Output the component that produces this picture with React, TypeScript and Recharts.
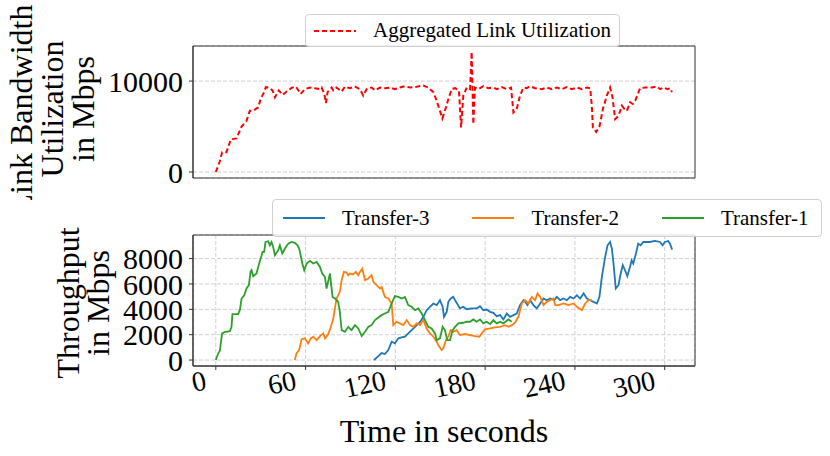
import { LineChart, Line, XAxis, YAxis, CartesianGrid, ReferenceArea } from 'recharts'

const FONT = '"Liberation Serif", "Times New Roman", serif'

const timeTicks = [0, 60, 120, 180, 240, 300]
const linkTicks = [0, 10000]
const throughputTicks = [0, 2000, 4000, 6000, 8000]

const topTitle = ['Link Bandwidth', 'Utilization', 'in Mbps']
const bottomTitle = ['Throughput', 'in Mbps']
const xTitle = 'Time in seconds'

const aggName = 'Aggregated Link Utilization'
const aggTime = [
  0, 2.7, 4.2, 7.1, 10, 13.8, 17.2, 20.5, 22.7, 25, 28.3, 30.1, 32.3, 33.4, 35, 36.1, 37.9, 39.5, 42.1, 44.6,
  47.3, 50.6, 53.5, 56.7, 59.5, 62.9, 66.2, 69.6, 70.7, 72.5, 73.6, 74.7, 77.4, 78.5, 80.7, 84.1, 86.3, 89.6, 93, 96.3,
  98.5, 100.8, 104.1, 106.4, 109.7, 113, 116.4, 119.7, 123, 126.4, 129.8, 134.2, 138.7, 142, 145.4, 147.6, 151.4, 153.8, 155.4, 157.7,
  159.9, 162.5, 163.9, 165.4, 167.7, 169.9, 171, 172.1, 173.2, 175.5, 178.8, 182.2, 185.5, 187.8, 191.1, 194.5, 197.3, 198.9, 201.1, 203.3,
  205.6, 207.8, 210, 213.4, 217.9, 221.2, 224.6, 227.9, 231.3, 234.6, 238, 241.3, 244.7, 248, 250.2, 251.3, 252, 254.2, 256.4, 258.7,
  261.3, 263.5, 265.1, 266.9, 269.1, 271.4, 273.1, 274.7, 276.9, 278.7, 280.3, 282.5, 283.6, 287, 291.4, 294.8, 297, 299.3, 301.9, 303.7,
  304.8,
]
const aggMbps = [
  0, 1180, 2180, 2180, 3590, 3700, 5000, 5620, 6730, 6730, 7110, 8110, 8780, 9330, 9300, 9220, 8970, 8220, 8970, 8480,
  8850, 9250, 9400, 8590, 9110, 9290, 9220, 9110, 9290, 8590, 7590, 8780, 9290, 8970, 9290, 8850, 9400, 9220, 9400, 9110,
  8400, 9110, 9290, 8970, 9290, 9220, 9290, 9110, 9290, 9440, 9290, 9370, 9520, 9290, 8780, 7840, 5890, 7110, 8030, 9140,
  9220, 8970, 4890, 8400, 9290, 9110, 13220, 5260, 9290, 9110, 9440, 9220, 9290, 9110, 9330, 9110, 9290, 6550, 6920, 8400,
  9290, 9220, 9440, 9220, 9110, 9290, 9110, 9290, 9110, 9330, 9110, 9290, 9110, 9290, 9220, 7290, 4890, 4400, 5000, 6920,
  8400, 9290, 8220, 5810, 6180, 7290, 6920, 6730, 7670, 7480, 7840, 8780, 9220, 9290, 9290, 9400, 9110, 9290, 9110, 9220,
  8780,
]

// Transfer-1 (green)
const t1Time = [
  0, 1.6, 2.7, 4.2, 5.8, 9.4, 10.5, 11.1, 14.9, 16.1, 17.2, 19, 20.5, 22.1, 23.2, 23.9, 25, 27.2, 28.3, 30.6,
  31.2, 32.3, 33.2, 35, 36.1, 37.2, 38.3, 39.5, 41.7, 42.8, 44.4, 46.2, 48.4, 50.6, 52.9, 54.6, 55.7, 56.7, 57.8, 59.1,
  60.7, 62.9, 65.1, 67.4, 69.6, 71.1, 72.9, 74, 76.3, 78, 79.7, 81.8, 82.9, 84.1, 86.3, 88.5, 90.7, 93, 95.2, 97.5,
  99.7, 102, 104.1, 106.4, 108.6, 110.8, 113, 115.3, 117.5, 119.7, 122, 124.2, 126.4, 128.6, 130.9, 133.1, 135.3, 137.6, 139.8, 142,
  144.2, 146.5, 147.6, 149.8, 151.6, 153.1, 154.7, 156.5, 158.3, 159.9, 162.1, 165.4, 167.7, 169.9, 172.1, 174.3, 176.6, 178.8, 181, 183.3,
  185.5, 187.7, 190, 192.2, 195.5, 197.7,
]
const t1Mbps = [
  0, 530, 730, 2100, 2200, 2270, 2620, 3620, 3620, 3950, 4850, 5110, 5640, 5900, 6950, 7080, 6610, 6820, 7340, 8260,
  8530, 8530, 9310, 9370, 9050, 9310, 8920, 8260, 8660, 9050, 8400, 8790, 9180, 9310, 9240, 9050, 8790, 8260, 7610, 7080,
  7610, 7820, 7610, 7740, 7340, 6820, 6560, 5640, 6820, 4980, 4850, 4590, 3800, 2360, 2230, 2620, 2360, 2750, 2490, 1890,
  2230, 2620, 2750, 3150, 3360, 3540, 3670, 3800, 4460, 5040, 4980, 4850, 4980, 4330, 4200, 3930, 4070, 3670, 3150, 2620,
  2490, 2100, 1570, 1710, 2620, 2360, 1570, 1570, 2360, 2620, 2890, 2940, 3020, 3020, 3200, 3020, 3200, 2890, 3020, 2830,
  3150, 2890, 3020, 2890, 3200, 3020,
]

// Transfer-2 (orange)
const t2Time = [
  52.8, 53.9, 55.7, 57.3, 59.5, 61.7, 63.5, 65.1, 67.4, 69.6, 71.8, 73, 75.1, 76.9, 78.5, 79.6, 80.7, 82.9, 84.1, 85.6,
  87.4, 88.5, 89.6, 91.8, 93.6, 95.2, 96.3, 97.9, 99.7, 101.9, 104.1, 105.3, 107.5, 109.7, 110.8, 113, 115.3, 117.5, 118.6, 120.8,
  123, 125.3, 127.6, 129.8, 132, 134.2, 136.5, 138.7, 140.9, 143.1, 145.4, 147.6, 148.7, 150.9, 152, 153.8, 155.4, 156.9, 158.7, 160.9,
  163.2, 166.5, 169.9, 173.2, 176.1, 177.7, 179.9, 183.3, 186.6, 190, 193.3, 195.6, 197.9, 200, 202.2, 204.5, 206.7, 208.9, 211.2, 213.4,
  215, 216.8, 219, 221.2, 223.4, 225.7, 226.8, 229, 232.4, 235.7, 239.1, 241.3, 244.6, 246.9, 249.1, 251.3,
]
const t2Mbps = [
  0, 530, 790, 1630, 1710, 1310, 1710, 1840, 1570, 1890, 2100, 1710, 2030, 2620, 3280, 4070, 4850, 5380, 6300, 6950,
  6900, 6690, 6820, 6750, 6950, 6690, 6950, 7210, 6300, 6430, 6690, 6170, 5900, 5640, 5770, 4980, 4850, 4460, 2750, 3020,
  2890, 2750, 3150, 2750, 2620, 2890, 2750, 3150, 2490, 2100, 1840, 1440, 1180, 790, 920, 1570, 1840, 2360, 2230, 2360,
  1970, 2050, 1970, 1890, 1840, 2100, 2420, 2490, 2570, 2620, 2750, 2620, 2750, 2940, 3410, 4460, 4720, 4460, 4980, 4720,
  5250, 4980, 4330, 4590, 4720, 4850, 4330, 4330, 4460, 4330, 4460, 4200, 3930, 4460, 4720, 4720,
]

// Transfer-3 (blue)
const t3Time = [
  105.7, 108.6, 110.8, 113, 115.3, 117.5, 119.7, 122, 124.2, 126.4, 128.6, 130.9, 133.1, 136.5, 138.7, 140.9, 143.1, 145.4, 147.6, 149.8,
  151.6, 152.5, 154.3, 155.4, 157, 158.7, 160.5, 163.2, 165.4, 167.7, 171, 174.3, 176.6, 178.8, 181, 183.3, 185.5, 187.7, 190, 192.2,
  194.5, 196.7, 198.9, 201.1, 203.3, 205.6, 206.7, 208.3, 210, 212.3, 214.5, 216.8, 219, 221.2, 223.4, 226.1, 227.9, 230.1, 232.4, 234.6,
  236.8, 239.1, 241.3, 243.5, 245.8, 248, 250.2, 252.4, 254.7, 256.4, 258, 260.2, 261.8, 263.5, 264.7, 265.8, 267.3, 269.1, 270.6, 272,
  273.5, 275, 276.8, 277.9, 279, 280.8, 282.3, 283.9, 285.7, 290.1, 293.5, 296.8, 298.6, 300.1, 302.4, 303.5, 305,
]
const t3Mbps = [
  0, 310, 550, 470, 790, 1440, 1310, 1710, 1790, 1840, 2100, 2360, 2620, 3010, 3410, 3930, 4200, 4460, 4330, 4720,
  4200, 3410, 3800, 4590, 4850, 4980, 4590, 4070, 4200, 4010, 4070, 4070, 4250, 3930, 3980, 3800, 3720, 3460, 3540, 3200,
  3670, 3410, 3540, 3670, 4330, 4720, 4590, 4330, 4720, 4330, 4070, 4460, 4850, 4720, 4850, 4720, 4980, 4720, 4850, 4720,
  4980, 4850, 5110, 4850, 5250, 4850, 4720, 4590, 4460, 4980, 6560, 8130, 9050, 9310, 8790, 7610, 5640, 5900, 6820, 7480,
  7080, 6610, 7340, 7870, 7610, 8400, 9180, 9050, 9310, 9310, 9390, 9310, 9050, 9310, 9390, 9180, 8710,
]

const transfers = [
  { name: 'Transfer-3', color: '#1f77b4', time: t3Time, mbps: t3Mbps },
  { name: 'Transfer-2', color: '#ff7f0e', time: t2Time, mbps: t2Mbps },
  { name: 'Transfer-1', color: '#2ca02c', time: t1Time, mbps: t1Mbps },
]

const toPoints = (time: number[], mbps: number[]) => time.map((t, i) => ({ t, v: mbps[i] }))

const X_DOMAIN: [number, number] = [-15.25, 320.25]
const TOP_DOMAIN: [number, number] = [-660, 13860]
const BOTTOM_DOMAIN: [number, number] = [-470, 9860]
const SPINE = '#333'
const GRID = '#d0d0d0'

function AxisTitle({ lines, x, y, gap }: { lines: string[]; x: number; y: number; gap: number }) {
  return (
    <g>
      {lines.map((line, i) => {
        const bx = x + i * gap
        return (
          <text
            key={line}
            x={bx}
            y={y}
            transform={`rotate(-90 ${bx} ${y})`}
            textAnchor="middle"
            fontSize={32}
            fontFamily={FONT}
            fill="#000"
          >
            {line}
          </text>
        )
      })}
    </g>
  )
}

function TimeTick({ x, y, payload }: any) {
  const ax = x - 8
  const ay = y + 17
  return (
    <text
      x={ax}
      y={ay}
      textAnchor="end"
      transform={`rotate(-12 ${ax} ${ay})`}
      fontSize={28}
      fontFamily={FONT}
      fill="#000"
    >
      {payload.value}
    </text>
  )
}

const yTick = { fontSize: 30, fill: '#000', fontFamily: FONT }

export default function App() {
  const aggData = toPoints(aggTime, aggMbps)

  return (
    <div style={{ position: 'absolute', left: 0, top: 0, width: 830, height: 456, background: '#fff' }}>
      <div style={{ position: 'absolute', left: 0, top: 0 }}>
        <LineChart width={830} height={200} data={aggData} margin={{ top: 46, right: 135, bottom: 22, left: 123 }}>
          <CartesianGrid vertical={false} stroke={GRID} strokeDasharray="4 2" />
          <XAxis
            dataKey="t"
            type="number"
            domain={X_DOMAIN}
            ticks={timeTicks}
            interval={0}
            tick={false}
            tickLine={false}
            axisLine={{ stroke: SPINE }}
            height={0}
          />
          <YAxis
            type="number"
            domain={TOP_DOMAIN}
            ticks={linkTicks}
            interval={0}
            width={70}
            tick={yTick}
            tickSize={4}
            tickMargin={6}
            tickLine={{ stroke: SPINE }}
            axisLine={{ stroke: SPINE }}
            label={{ content: () => <AxisTitle lines={topTitle} x={32} y={109} gap={31} /> }}
          />
          <ReferenceArea
            x1={X_DOMAIN[0]}
            x2={X_DOMAIN[1]}
            y1={TOP_DOMAIN[0]}
            y2={TOP_DOMAIN[1]}
            fill="none"
            stroke={SPINE}
            strokeWidth={1}
          />
          <Line
            dataKey="v"
            stroke="#ff0000"
            strokeWidth={2}
            strokeDasharray="5 3"
            dot={false}
            isAnimationActive={false}
          />
        </LineChart>
      </div>

      <div style={{ position: 'absolute', left: 0, top: 0 }}>
        <LineChart width={830} height={456} margin={{ top: 235, right: 135, bottom: 0, left: 123 }}>
          <CartesianGrid stroke={GRID} strokeDasharray="4 2" />
          <XAxis
            dataKey="t"
            type="number"
            domain={X_DOMAIN}
            ticks={timeTicks}
            interval={0}
            height={90}
            tick={<TimeTick />}
            tickSize={4}
            tickMargin={2}
            tickLine={{ stroke: SPINE }}
            axisLine={{ stroke: SPINE }}
            label={{ value: xTitle, position: 'insideBottom', offset: 14, fontSize: 32, fontFamily: FONT, fill: '#000' }}
          />
          <YAxis
            type="number"
            domain={BOTTOM_DOMAIN}
            ticks={throughputTicks}
            interval={0}
            width={70}
            tick={yTick}
            tickSize={4}
            tickMargin={6}
            tickLine={{ stroke: SPINE }}
            axisLine={{ stroke: SPINE }}
            label={{ content: () => <AxisTitle lines={bottomTitle} x={79} y={303} gap={30} /> }}
          />
          <ReferenceArea
            x1={X_DOMAIN[0]}
            x2={X_DOMAIN[1]}
            y1={BOTTOM_DOMAIN[0]}
            y2={BOTTOM_DOMAIN[1]}
            fill="none"
            stroke={SPINE}
            strokeWidth={1}
          />
          {transfers.map((s) => (
            <Line
              key={s.name}
              data={toPoints(s.time, s.mbps)}
              dataKey="v"
              name={s.name}
              stroke={s.color}
              strokeWidth={1.8}
              dot={false}
              isAnimationActive={false}
            />
          ))}
        </LineChart>
      </div>

      {/* legend of the top panel */}
      <div
        style={{
          position: 'absolute',
          left: 305,
          top: 14,
          width: 315,
          height: 33,
          boxSizing: 'border-box',
          border: '1px solid #d0d0d0',
          borderRadius: 4,
          background: 'rgba(255,255,255,0.85)',
          display: 'flex',
          alignItems: 'center',
          paddingLeft: 8,
          fontFamily: FONT,
          fontSize: 21,
          whiteSpace: 'nowrap',
        }}
      >
        <svg width={42} height={6} style={{ marginRight: 17, flexShrink: 0 }}>
          <line x1={0} y1={3} x2={42} y2={3} stroke="#ff0000" strokeWidth={2} strokeDasharray="5 3" />
        </svg>
        <span>{aggName}</span>
      </div>

      {/* legend of the bottom panel */}
      <div
        style={{
          position: 'absolute',
          left: 272,
          top: 199,
          width: 550,
          height: 38,
          boxSizing: 'border-box',
          border: '1px solid #d0d0d0',
          borderRadius: 4,
          background: 'rgba(255,255,255,0.85)',
          display: 'flex',
          alignItems: 'center',
          paddingLeft: 10,
          fontFamily: FONT,
          fontSize: 21,
          whiteSpace: 'nowrap',
        }}
      >
        {transfers.map((s) => (
          <div key={s.name} style={{ display: 'flex', alignItems: 'center', marginRight: 43, flexShrink: 0 }}>
            <svg width={42} height={6} style={{ marginRight: 17, flexShrink: 0 }}>
              <line x1={0} y1={3} x2={42} y2={3} stroke={s.color} strokeWidth={1.8} />
            </svg>
            <span>{s.name}</span>
          </div>
        ))}
      </div>
    </div>
  )
}
